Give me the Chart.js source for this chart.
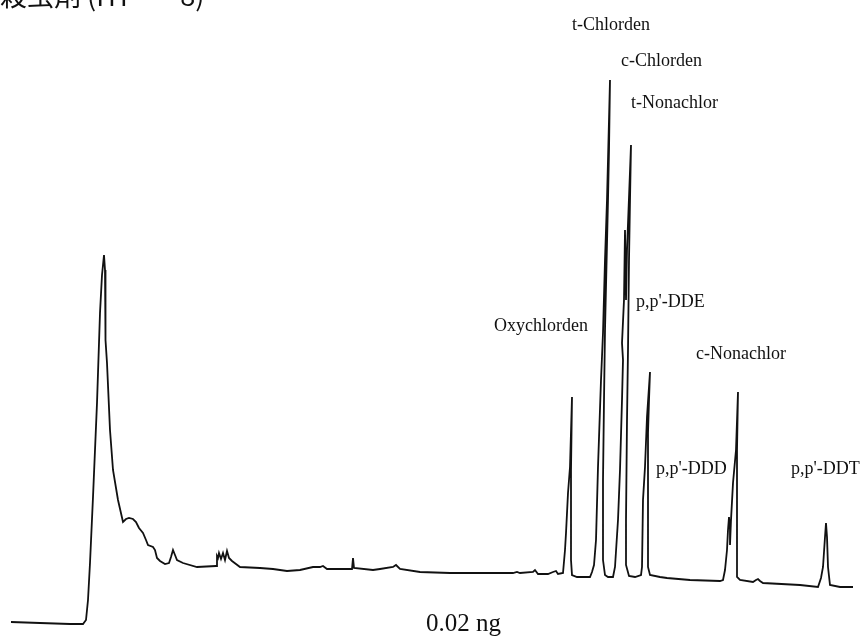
<!DOCTYPE html>
<html>
<head>
<meta charset="utf-8">
<script src="https://cdn.jsdelivr.net/npm/chart.js@4.4.0/dist/chart.umd.min.js"></script>
<style>
  html, body { margin: 0; padding: 0; background: #fff; }
  canvas { display: block; }
</style>
</head>
<body>
<canvas id="cromatogramma" width="861" height="644"></canvas>
<script>
// === Trace (retention position, detector signal) ===
const tempi = [
  11, 40, 70, 83, 86, 88, 90, 93, 97, 100, 102, 104, 105, 105.5, 107, 110, 113, 118, 123, 126,
  129, 133, 136, 139, 143, 146, 148, 153, 155, 157, 160, 165, 169, 171, 173, 175, 177, 183, 197, 216,
  217, 218, 219, 221, 223, 225, 227, 229, 232, 240, 260, 273, 287, 300, 313, 320, 323, 327, 345, 352,
  353, 354, 373, 380, 393, 396, 400, 420, 450, 480, 513, 517, 520, 533, 535, 538, 548, 553, 556, 558,
  563, 565, 566, 568, 570, 572, 571, 571, 572, 577, 590, 592, 594, 596, 598, 601, 603, 605, 607, 610,
  609, 608, 605, 604, 603, 603, 605, 608, 613, 615, 618, 620, 622, 623, 622, 624, 625, 626, 627, 631,
  630, 629, 628, 627, 626, 626, 629, 635, 641, 642, 643, 645, 647, 650, 649, 648, 648, 648, 650, 660,
  667, 690, 720, 723, 725, 727, 728, 729, 730, 730, 731, 733, 736, 738, 737, 737, 737, 740, 753, 756,
  758, 760, 763, 800, 818, 821, 823, 825, 826, 827, 828, 830, 840, 853
];
const segnale = [
  22, 21, 20, 20, 24, 44, 81, 147, 241, 331, 369, 389, 374, 304, 281, 214, 174, 144, 122, 125,
  126, 125, 122, 116, 111, 104, 99, 97, 94, 86, 83, 80, 81, 87, 94, 89, 84, 81, 77, 78,
  88, 86, 91, 85, 91, 84, 93, 86, 83, 77, 76, 75, 73, 74, 77, 77, 78, 75, 75, 75,
  86, 76, 74, 75, 77, 79, 75, 72, 71, 71, 71, 72, 71, 72, 74, 70, 70, 72, 73, 70,
  71, 94, 111, 151, 177, 247, 174, 84, 69, 67, 67, 72, 79, 104, 177, 264, 311, 384, 444, 564,
  494, 444, 314, 244, 164, 84, 69, 67, 67, 77, 124, 174, 244, 284, 301, 344, 414, 344, 394, 499,
  444, 384, 294, 224, 124, 79, 68, 67, 69, 77, 144, 177, 227, 272, 244, 211, 144, 77, 69, 67,
  66, 64, 63, 64, 74, 94, 114, 127, 114, 99, 124, 161, 194, 252, 194, 127, 67, 64, 62, 64,
  65, 63, 61, 59, 57, 66, 77, 107, 121, 107, 77, 59, 57, 57
];

// === Peak names ===
const composti = [
  "t-Chlorden", "c-Chlorden", "t-Nonachlor", "p,p'-DDE", "Oxychlorden",
  "c-Nonachlor", "p,p'-DDD", "p,p'-DDT"
];
const titolo = "殺虫剤 (HT  —  8)";
const quantita = "0.02 ng";

// === Where the annotations sit (data units) ===
const posizioniEtichette = [
  [572, 619], [621, 583], [631, 541], [636, 342], [494, 318],
  [696, 290], [656, 175], [791, 175]
];

const puntiTraccia = tempi.map((t, i) => ({ x: t, y: segnale[i] }));

const etichettePlugin = {
  id: "etichette",
  afterDatasetsDraw(chart) {
    const ctx = chart.ctx;
    const sx = chart.scales.x;
    const sy = chart.scales.y;
    ctx.save();
    ctx.fillStyle = "#111";
    ctx.textAlign = "left";
    ctx.textBaseline = "middle";
    ctx.font = "18px 'Liberation Serif', serif";
    composti.forEach((nome, i) => {
      const [px, py] = posizioniEtichette[i];
      ctx.fillText(nome, sx.getPixelForValue(px), sy.getPixelForValue(py));
    });
    ctx.font = "25px 'Liberation Serif', serif";
    ctx.fillText(quantita, sx.getPixelForValue(426), sy.getPixelForValue(20));
    // title is cut off by the top edge in the scan
    ctx.textBaseline = "alphabetic";
    ctx.font = "27px 'Noto Sans CJK JP', 'Liberation Serif', serif";
    ctx.fillText(titolo, 0, 6);
    ctx.restore();
  }
};

new Chart(document.getElementById("cromatogramma"), {
  type: "line",
  data: {
    datasets: [{
      data: puntiTraccia,
      borderColor: "#111",
      borderWidth: 1.8,
      pointRadius: 0,
      fill: false,
      tension: 0
    }]
  },
  options: {
    responsive: false,
    animation: false,
    layout: { padding: 0 },
    plugins: { legend: { display: false }, tooltip: { enabled: false } },
    scales: {
      x: { type: "linear", min: 0, max: 861, display: false },
      y: { type: "linear", min: 0, max: 644, display: false }
    }
  },
  plugins: [etichettePlugin]
});
</script>
</body>
</html>
